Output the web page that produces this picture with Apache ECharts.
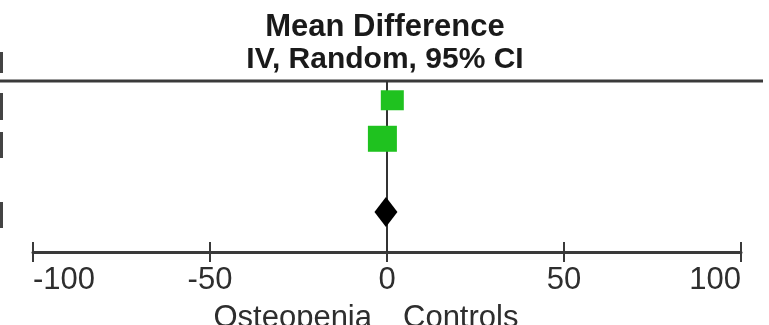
<!DOCTYPE html>
<html>
<head>
<meta charset="utf-8">
<script src="https://cdn.jsdelivr.net/npm/echarts@6/dist/echarts.min.js"></script>
<style>html,body{margin:0;padding:0;background:#fff}#c{width:769px;height:325px}</style>
</head>
<body>
<div id="c"></div>
<script>
// ---- data ----
var titleLines = ['Mean Difference', 'IV, Random, 95% CI'];
var axisTicks = [-100, -50, 0, 50, 100];
var favoursLeft = 'Osteopenia';
var favoursRight = 'Controls';
var studyMD = [1.5, -1.3];      // study mean differences
var studyRow = [0.5, 1.5];      // row index (top to bottom)
var pooledMD = [-0.3];          // pooled (random effects) estimate
var pooledRow = [3.4];

var chart = echarts.init(document.getElementById('c'), null, {renderer: 'canvas'});
var FONT = '"Liberation Sans", Arial, sans-serif';
var studySizes = [[23, 20], [29, 26]];

var option = {
  animation: false,
  backgroundColor: '#ffffff',
  grid: {left: 33, right: 28, top: 81, bottom: 73, containLabel: false},
  xAxis: [{
    type: 'value', position: 'bottom',
    min: axisTicks[0], max: axisTicks[axisTicks.length - 1], interval: 50,
    splitLine: {show: false},
    axisLine: {show: true, onZero: false, lineStyle: {color: '#3a3a3a', width: 3}},
    axisTick: {show: true, inside: false, length: 10, lineStyle: {color: '#3a3a3a', width: 2}},
    axisLabel: {show: true, margin: 13, fontSize: 31, color: '#2e2e2e', fontFamily: FONT,
      alignMinLabel: 'left', alignMaxLabel: 'right',
      formatter: function (v) { return String(v); }}
  }, {
    type: 'value', position: 'bottom',
    min: axisTicks[0], max: axisTicks[axisTicks.length - 1], interval: 50,
    splitLine: {show: false},
    axisLine: {show: false, onZero: false},
    axisTick: {show: true, inside: true, length: 10, lineStyle: {color: '#3a3a3a', width: 2}},
    axisLabel: {show: false}
  }],
  yAxis: {type: 'value', inverse: true, min: 0, max: 4.44, show: false},
  series: [{
    type: 'line', data: [], z: 1,
    markLine: {
      silent: true, symbol: ['none', 'none'], label: {show: false},
      lineStyle: {color: '#333', width: 2, type: 'solid'},
      data: [{xAxis: 0}]
    }
  }, {
    type: 'scatter', z: 20, zlevel: 1,
    symbol: 'rect',
    itemStyle: {color: '#1fc21f', opacity: 1},
    data: studyMD.map(function (v, i) { return {value: [v, studyRow[i]], symbolSize: studySizes[i]}; })
  }, {
    type: 'scatter', z: 20, zlevel: 1,
    symbol: 'diamond', symbolSize: [23, 30],
    itemStyle: {color: '#000', opacity: 1},
    data: pooledMD.map(function (v, i) { return [v, pooledRow[i]]; })
  }],
  graphic: [
    {type: 'text', x: 385, y: 27, style: {text: titleLines[0], font: 'bold 31px ' + FONT, fill: '#1a1a1a', textAlign: 'center', textVerticalAlign: 'middle'}},
    {type: 'text', x: 385, y: 60, style: {text: titleLines[1], font: 'bold 30px ' + FONT, fill: '#1a1a1a', textAlign: 'center', textVerticalAlign: 'middle'}},
    {type: 'line', shape: {x1: 0, y1: 81, x2: 763, y2: 81}, style: {stroke: '#3a3a3a', lineWidth: 3}},
    {type: 'text', x: 372, y: 318, style: {text: favoursLeft, font: '31px ' + FONT, fill: '#2e2e2e', textAlign: 'right', textVerticalAlign: 'middle'}},
    {type: 'text', x: 403, y: 318, style: {text: favoursRight, font: '31px ' + FONT, fill: '#2e2e2e', textAlign: 'left', textVerticalAlign: 'middle'}},
    {type: 'rect', shape: {x: 0, y: 52, width: 3, height: 21}, style: {fill: '#444'}},
    {type: 'rect', shape: {x: 0, y: 93, width: 3, height: 27}, style: {fill: '#444'}},
    {type: 'rect', shape: {x: 0, y: 132, width: 3, height: 26}, style: {fill: '#444'}},
    {type: 'rect', shape: {x: 0, y: 202, width: 3, height: 26}, style: {fill: '#444'}}
  ]
};
chart.setOption(option);
</script>
</body>
</html>
